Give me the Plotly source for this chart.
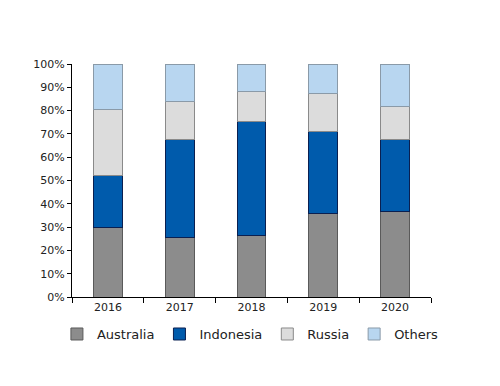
import plotly.graph_objects as go

years = ["2016", "2017", "2018", "2019", "2020"]
australia = [30.0, 25.7, 26.5, 35.8, 36.9]
indonesia = [22.3, 41.8, 49.0, 35.1, 30.9]
russia = [28.0, 16.5, 12.5, 16.5, 13.9]
others = [19.7, 16.0, 12.0, 12.6, 18.3]

series = [
    ("Australia", australia, "#8C8C8C", "#5a5a5a"),
    ("Indonesia", indonesia, "#005BAC", "#0a1f50"),
    ("Russia", russia, "#DCDCDC", "#8a8a8a"),
    ("Others", others, "#B8D6F0", "#8a9aa8"),
]

fig = go.Figure()
for name, vals, color, edge in series:
    fig.add_trace(go.Bar(
        x=years, y=vals, name=name,
        marker=dict(color=color, line=dict(color=edge, width=1)),
        width=0.4,
    ))

font = "DejaVu Sans"
fig.update_layout(
    barmode="stack",
    width=492, height=378,
    margin=dict(l=64, r=69, t=56, b=89, autoexpand=False),
    plot_bgcolor="white", paper_bgcolor="white",
    showlegend=True,
    legend=dict(orientation="h", x=-0.042, xanchor="left",
                y=-0.159, yanchor="middle",
                font=dict(family=font, size=13, color="#222"),
                itemwidth=30, traceorder="normal", tracegroupgap=0),
    font=dict(family=font, size=11, color="#222"),
)
fig.update_xaxes(
    showline=True, linecolor="black", linewidth=1, automargin=False,
    ticks="outside", ticklen=5, tickcolor="black", tickson="boundaries",
    tickfont=dict(family=font, size=11),
)
fig.update_yaxes(
    range=[0, 100], dtick=10, ticksuffix="%", automargin=False,
    showline=True, linecolor="black", linewidth=1,
    ticks="outside", ticklen=4, tickcolor="black",
    showgrid=False, zeroline=False,
    tickfont=dict(family=font, size=11),
)
fig.write_html("out.html")
